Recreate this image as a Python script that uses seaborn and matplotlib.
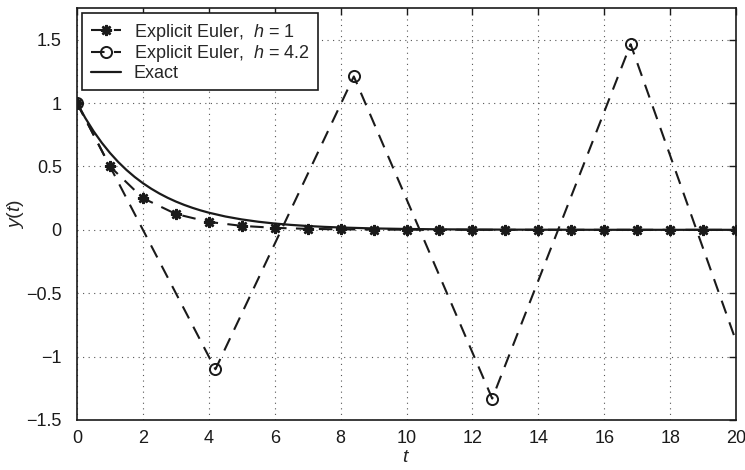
import matplotlib
matplotlib.use("Agg")
import matplotlib.pyplot as plt
import seaborn as sns
import pandas as pd

# Explicit Euler, h = 1
t_h1 = [0, 1, 2, 3, 4, 5, 6, 7, 8, 9, 10, 11, 12, 13, 14, 15, 16, 17, 18, 19, 20]
y_h1 = [1.0, 0.5, 0.25, 0.125, 0.0625, 0.03125, 0.0156, 0.0078, 0.0039, 0.002, 0.001,
        0.0005, 0.0002, 0.0001, 0.0001, 0.0, 0.0, 0.0, 0.0, 0.0, 0.0]

# Explicit Euler, h = 4.2 (last point lies beyond the axis limit)
t_h42 = [0.0, 4.2, 8.4, 12.6, 16.8, 21.0]
y_h42 = [1.0, -1.1, 1.21, -1.331, 1.4641, -1.6105]

# Exact solution
t_exact = [0, 0.25, 0.5, 0.75, 1, 1.25, 1.5, 1.75, 2, 2.25, 2.5, 2.75, 3, 3.25, 3.5, 3.75,
           4, 4.5, 5, 5.5, 6, 6.5, 7, 7.5, 8, 9, 10, 11, 12, 14, 16, 18, 20]
y_exact = [1.0, 0.8825, 0.7788, 0.6873, 0.6065, 0.5353, 0.4724, 0.4169, 0.3679, 0.3247,
           0.2865, 0.2528, 0.2231, 0.1969, 0.1738, 0.1534, 0.1353, 0.1054, 0.0821, 0.0639,
           0.0498, 0.0388, 0.0302, 0.0235, 0.0183, 0.0111, 0.0067, 0.0041, 0.0025, 0.0009,
           0.0003, 0.0001, 0.0]

x_ticks = [0, 2, 4, 6, 8, 10, 12, 14, 16, 18, 20]
y_ticks = [-1.5, -1, -0.5, 0, 0.5, 1, 1.5]
y_ticklabels = ["\u22121.5", "\u22121", "\u22120.5", "0", "0.5", "1", "1.5"]

sns.set_theme(style="white")
plt.rcParams["font.family"] = ["Liberation Sans", "DejaVu Sans"]
plt.rcParams["mathtext.fontset"] = "custom"
plt.rcParams["mathtext.it"] = "Liberation Sans:italic"
plt.rcParams["mathtext.rm"] = "Liberation Sans"

INK = "#1a1a1a"
DASH = (0, (6.5, 4.5))

fig = plt.figure(figsize=(7.45, 4.70), dpi=100)
ax = fig.add_axes([0.1034, 0.1064, 0.8846, 0.8766])

df1 = pd.DataFrame({"t": t_h1, "y": y_h1})
df2 = pd.DataFrame({"t": t_h42, "y": y_h42})
df3 = pd.DataFrame({"t": t_exact, "y": y_exact})

sns.lineplot(data=df1, x="t", y="y", ax=ax, color=INK, linestyle=DASH,
             linewidth=1.5, marker=(8, 2, 0), markersize=8, markeredgewidth=1.8,
             markeredgecolor=INK, markerfacecolor=INK,
             label="Explicit Euler,  $h$ = 1", sort=False)
sns.lineplot(data=df2, x="t", y="y", ax=ax, color=INK, linestyle=DASH,
             linewidth=1.5, marker="o", markersize=8, markerfacecolor="none",
             markeredgecolor=INK, markeredgewidth=1.4,
             label="Explicit Euler,  $h$ = 4.2", sort=False)
sns.lineplot(data=df3, x="t", y="y", ax=ax, color=INK, linewidth=1.6,
             label="Exact", sort=False)

ax.set_xlim(0, 20)
ax.set_ylim(-1.5, 1.75)
ax.set_xticks(x_ticks)
ax.set_xticklabels([str(v) for v in x_ticks])
ax.set_yticks(y_ticks)
ax.set_yticklabels(y_ticklabels)
ax.grid(True, linestyle=(0, (1, 4)), color="#555555", linewidth=0.8)
ax.tick_params(direction="in", top=True, right=True, length=5, width=1,
               labelsize=13, colors=INK)
ax.tick_params(axis="y", pad=11)
ax.tick_params(axis="x", pad=7)
for s in ax.spines.values():
    s.set_color(INK)
    s.set_linewidth(1.2)
ax.set_xlabel("$t$", fontsize=14, labelpad=2)
ax.set_ylabel("$y$($t$)", fontsize=14)
ax.yaxis.set_label_coords(-0.077, 0.5)

leg = ax.legend(loc="upper left", fontsize=13, frameon=True, fancybox=False,
                edgecolor=INK, borderaxespad=0.3, handlelength=1.7,
                handletextpad=0.7, labelspacing=0.05, borderpad=0.45)
leg.get_frame().set_linewidth(1.2)
leg.get_frame().set_alpha(1)

fig.savefig("out.png", dpi=100)
